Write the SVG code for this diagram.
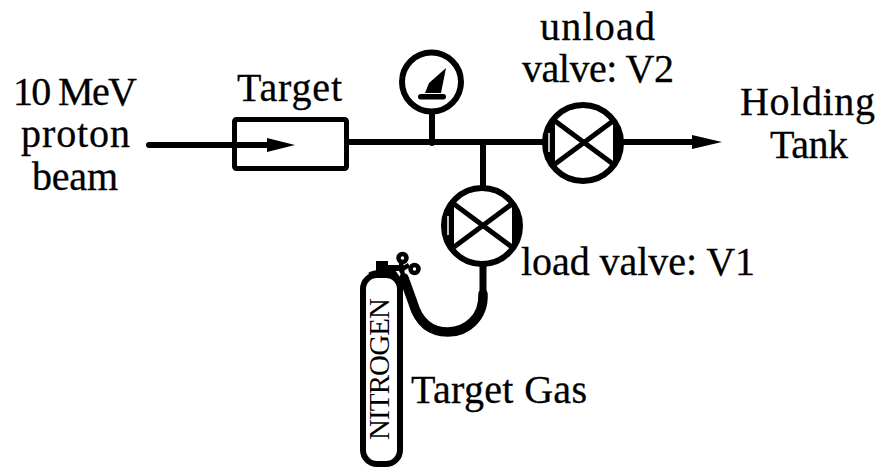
<svg xmlns="http://www.w3.org/2000/svg" width="885" height="467" viewBox="0 0 885 467">
<style>
.l{fill:none;stroke:#000;stroke-width:6;stroke-linecap:round;stroke-linejoin:round}
.o{fill:#fff;stroke:#000;stroke-width:6}
.x{fill:none;stroke:#000;stroke-width:5}
.t{font-family:"Liberation Serif","Times New Roman",serif;font-size:40px;fill:#000;stroke:#000;stroke-width:.3}
</style>
<rect width="885" height="467" fill="#fff"/>
<g id="connectors">
<path class="l" d="M149 145H268"/>
<polygon points="267,138 295,145 267,152" fill="#000"/>
<path class="l" d="M349 142H545M432 143V112M483 143V186M622 142H694"/>
<polygon points="692,135 722,142 692,149" fill="#000"/>
<path d="M483 266V296" fill="none" stroke="#000" stroke-width="7"/>
<path d="M483 294C484 318 466 332 448 332C428 332 418 320 413 303L404 278" fill="none" stroke="#000" stroke-width="9.500" stroke-linecap="round"/>
</g>
<g id="target"><rect x="234.500" y="119.500" width="112" height="49" rx="2" fill="none" stroke="#000" stroke-width="5"/></g>
<g id="gauge">
<circle class="o" cx="431.500" cy="82" r="29.500"/>
<path d="M425 93L429 83L446 68L441 93Z" fill="#000"/>
<rect x="418" y="94" width="28" height="5.500" rx="2.700" fill="#000"/>
</g>
<g id="v2">
<circle class="o" cx="583" cy="143" r="38"/>
<path class="x" d="M555 121L613 164M555 164L613 121"/>
<path d="M615 124A37 37 0 0 1 615 162Z" fill="#000"/>
<path d="M615 120V166M553 120V166" stroke="#000" stroke-width="4" fill="none"/>
<path d="M552 123A37 37 0 0 0 552 163Z" fill="#000"/>
<path d="M549 133V152" stroke="#fff" stroke-width="1.500"/>
</g>
<g id="v1">
<circle class="o" cx="482" cy="226" r="38"/>
<path class="x" d="M454 204L512 247M454 247L512 204"/>
<path d="M514 207A37 37 0 0 1 514 245Z" fill="#000"/>
<path d="M514 203V249M452 203V249" stroke="#000" stroke-width="4" fill="none"/>
<path d="M451 206A37 37 0 0 0 451 246Z" fill="#000"/>
<path d="M448 216V235" stroke="#fff" stroke-width="1.500"/>
</g>
<g id="cylinder">
<rect x="363" y="275" width="37" height="189" rx="14" fill="#fff" stroke="#000" stroke-width="6"/>
<path d="M368 273Q375 268 395 270L402 280L392 276H372Z" fill="#000"/>
<rect x="376" y="261" width="12" height="10" fill="#000"/>
<path d="M387 268H400" stroke="#000" stroke-width="6"/>
<circle cx="402.500" cy="258" r="4" fill="none" stroke="#000" stroke-width="4.500"/>
<circle cx="414.500" cy="269" r="4" fill="none" stroke="#000" stroke-width="4.500"/>
<path d="M399 271L409 265M401 263L403 276" stroke="#000" stroke-width="4.500"/>
<text transform="translate(389 369) rotate(-90)" font-family="Liberation Serif,serif" font-size="29" text-anchor="middle" textLength="142" lengthAdjust="spacing">NITROGEN</text>
</g>
<g id="labels">
<text class="t" x="13" y="105" textLength="124">10 MeV</text>
<text class="t" x="21" y="147" textLength="109">proton</text>
<text class="t" x="32" y="190" textLength="86">beam</text>
<text class="t" x="237" y="101" textLength="105">Target</text>
<text class="t" x="540" y="40" textLength="115">unload</text>
<text class="t" x="522" y="82" textLength="152">valve: V2</text>
<text class="t" x="740" y="115" textLength="135">Holding</text>
<text class="t" x="770" y="158" textLength="78">Tank</text>
<text class="t" x="521" y="275" textLength="234">load valve: V1</text>
<text class="t" x="411" y="403" textLength="176">Target Gas</text>
</g>
</svg>
